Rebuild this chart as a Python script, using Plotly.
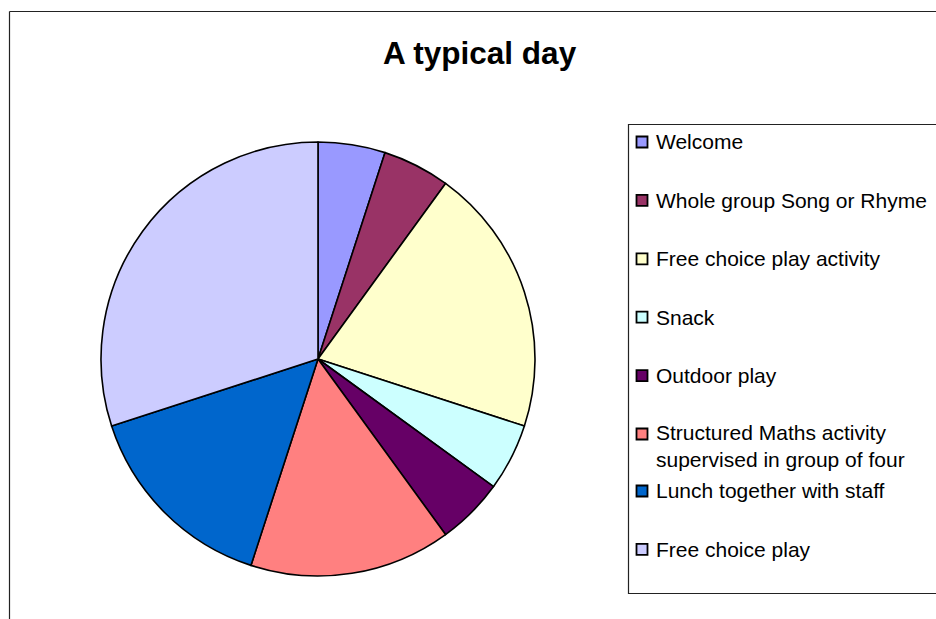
import plotly.graph_objects as go

W, H = 936, 619

# activities of the day, in order clockwise from 12 o'clock
labels = ["Welcome", "Whole group Song or Rhyme", "Free choice play activity", "Snack",
          "Outdoor play", "Structured Maths activity supervised in group of four",
          "Lunch together with staff", "Free choice play"]
legend_text = ["Welcome", "Whole group Song or Rhyme", "Free choice play activity", "Snack",
               "Outdoor play", "Structured Maths activity<br>supervised in group of four",
               "Lunch together with staff", "Free choice play"]
shares = [5, 5, 20, 5, 5, 15, 15, 30]
colors = ["#9999FF", "#993366", "#FFFFCC", "#CCFFFF", "#660066", "#FF8080", "#0066CC", "#CCCCFF"]


def px(x):
    return x / W


def py(y):
    return 1 - y / H


cx, cy, r = 318, 359, 217

fig = go.Figure()
fig.add_trace(go.Pie(labels=labels, values=shares, sort=False, direction="clockwise", rotation=0,
                     marker=dict(colors=colors, line=dict(color="black", width=1.6)),
                     textinfo="none", showlegend=False,
                     domain=dict(x=[px(cx - r), px(cx + r)], y=[py(cy + r), py(cy - r)])))

shapes = [
    # chart area border (cut off at right and bottom)
    dict(type="line", xref="paper", yref="paper", x0=px(9.5), x1=px(9.5), y0=py(11.5), y1=py(H + 20),
         line=dict(color="#222", width=1.2)),
    dict(type="line", xref="paper", yref="paper", x0=px(9.5), x1=px(W + 20), y0=py(11.5), y1=py(11.5),
         line=dict(color="#222", width=1.2)),
    # legend box
    dict(type="rect", xref="paper", yref="paper", x0=px(628.5), x1=px(W + 20), y0=py(593.5), y1=py(124.5),
         line=dict(color="#222", width=1.2), fillcolor="white", layer="below"),
]
annotations = [dict(text="<b>A typical day</b>", x=px(480), y=py(53), xref="paper", yref="paper",
                    showarrow=False, xanchor="center", yanchor="middle",
                    font=dict(family="Liberation Sans, Arial", size=31.5, color="black"))]

y = 142
for lab, col in zip(legend_text, colors):
    lines = lab.count("<br>") + 1
    shapes.append(dict(type="rect", xref="paper", yref="paper", x0=px(636.5), x1=px(647.5),
                       y0=py(y + 5.5), y1=py(y - 5.5), fillcolor=col, line=dict(color="black", width=1.8)))
    annotations.append(dict(text=lab, x=px(654), y=py(y + (lines - 1) * 12), xref="paper", yref="paper",
                            showarrow=False, xanchor="left", yanchor="middle", align="left",
                            font=dict(family="Liberation Sans, Arial", size=21, color="black")))
    y += 58.4 if lines == 1 else 57

fig.update_layout(width=W, height=H, margin=dict(l=0, r=0, t=0, b=0),
                  paper_bgcolor="white", plot_bgcolor="white",
                  shapes=shapes, annotations=annotations)
fig.write_html("out.html", config={"displayModeBar": False},
               post_script="document.body.style.margin='0';")
